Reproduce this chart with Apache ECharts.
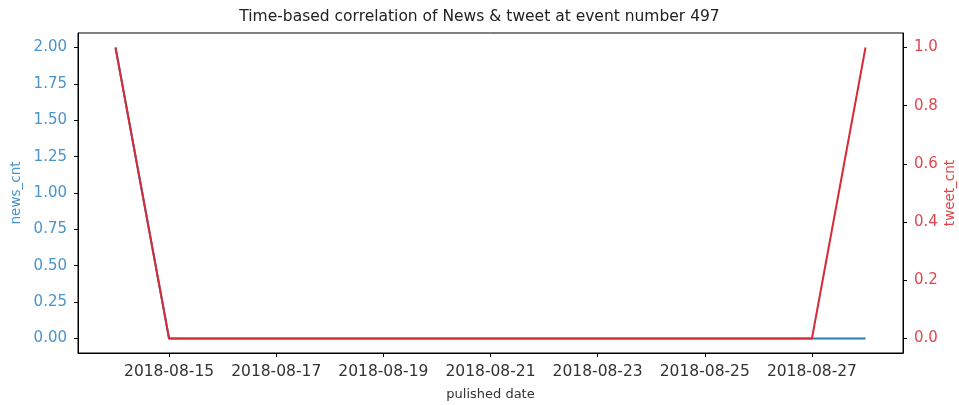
<!DOCTYPE html>
<html>
<head>
<meta charset="utf-8">
<script src="https://cdn.jsdelivr.net/npm/echarts@6/dist/echarts.min.js"></script>
<style>
  html, body { margin: 0; padding: 0; background: #fff; }
  #chart { width: 959px; height: 405px; }
</style>
</head>
<body>
<div id="chart"></div>
<script>
// Daily counts for event 497
const dates = ['2018-08-14','2018-08-15','2018-08-16','2018-08-17','2018-08-18','2018-08-19','2018-08-20',
               '2018-08-21','2018-08-22','2018-08-23','2018-08-24','2018-08-25','2018-08-26','2018-08-27','2018-08-28'];
const newsCnt  = [2,0,0,0,0,0,0,0,0,0,0,0,0,0,0];
const tweetCnt = [1,0,0,0,0,0,0,0,0,0,0,0,0,0,1];
const dateTicks = ['2018-08-15','2018-08-17','2018-08-19','2018-08-21','2018-08-23','2018-08-25','2018-08-27'];
const newsTicks  = [0,0.25,0.5,0.75,1,1.25,1.5,1.75,2];
const tweetTicks = [0,0.2,0.4,0.6,0.8,1];

const DAY = 86400000;
const ts = d => Date.parse(d + 'T00:00:00Z');
const xs = dates.map(ts);
const xMin = xs[0] - 0.7 * DAY, xMax = xs[xs.length - 1] + 0.7 * DAY;
const fmtDate = v => new Date(v).toISOString().slice(0, 10);

const FONT = '"DejaVu Sans", sans-serif';
const BLUE = '#2a7ab8', BLUE_TXT = '#4a94cc';
const RED = '#d62c36', RED_TXT = '#e0474c';

const chart = echarts.init(document.getElementById('chart'), null, { renderer: 'canvas' });
chart.setOption({
  animation: false,
  backgroundColor: '#fff',
  title: {
    text: 'Time-based correlation of News & tweet at event number 497',
    left: 'center', top: 4,
    textStyle: { fontFamily: FONT, fontSize: 15.5, fontWeight: 'normal', color: '#222' }
  },
  grid: {
    left: 78, right: 56, top: 33, bottom: 52, outerBoundsMode: 'none', containLabel: false,
    show: true, borderColor: '#000', borderWidth: 1, backgroundColor: 'transparent'
  },
  xAxis: {
    type: 'value', min: xMin, max: xMax,
    name: 'pulished date', nameLocation: 'middle', nameGap: 35,
    nameTextStyle: { fontFamily: FONT, fontSize: 13, color: '#333' },
    axisLine: { show: true, onZero: false, lineStyle: { color: '#000' } },
    axisTick: { show: true, length: 4, lineStyle: { color: '#000' }, customValues: dateTicks.map(ts) },
    axisLabel: { fontFamily: FONT, fontSize: 15.5, color: '#333', margin: 11, customValues: dateTicks.map(ts), formatter: fmtDate },
    splitLine: { show: false }
  },
  yAxis: [{
    type: 'value', min: -0.1, max: 2.1, position: 'left',
    name: 'news_cnt', nameLocation: 'middle', nameGap: 55, nameRotate: 90, nameMoveOverlap: false,
    nameTextStyle: { fontFamily: FONT, fontSize: 13.5, color: BLUE_TXT },
    axisLine: { show: true, onZero: false, lineStyle: { color: '#000' } },
    axisTick: { show: true, length: 4, lineStyle: { color: '#000' }, customValues: newsTicks },
    axisLabel: { fontFamily: FONT, fontSize: 15, color: BLUE_TXT, margin: 11, customValues: newsTicks, formatter: v => v.toFixed(2) },
    splitLine: { show: false }
  }, {
    type: 'value', min: -0.05, max: 1.05, position: 'right',
    name: 'tweet_cnt', nameLocation: 'middle', nameGap: 40, nameRotate: 90, nameMoveOverlap: false,
    nameTextStyle: { fontFamily: FONT, fontSize: 13.5, color: RED_TXT },
    axisLine: { show: true, onZero: false, lineStyle: { color: '#000' } },
    axisTick: { show: true, length: 4, lineStyle: { color: '#000' }, customValues: tweetTicks },
    axisLabel: { fontFamily: FONT, fontSize: 15, color: RED_TXT, margin: 11, customValues: tweetTicks, formatter: v => v.toFixed(1) },
    splitLine: { show: false }
  }],
  series: [{
    name: 'news_cnt', type: 'line', yAxisIndex: 0, showSymbol: false,
    lineStyle: { color: BLUE, width: 2 }, itemStyle: { color: BLUE },
    data: xs.map((x, i) => [x, newsCnt[i]])
  }, {
    name: 'tweet_cnt', type: 'line', yAxisIndex: 1, showSymbol: false,
    lineStyle: { color: RED, width: 2 }, itemStyle: { color: RED },
    data: xs.map((x, i) => [x, tweetCnt[i]])
  }]
});
</script>
</body>
</html>
